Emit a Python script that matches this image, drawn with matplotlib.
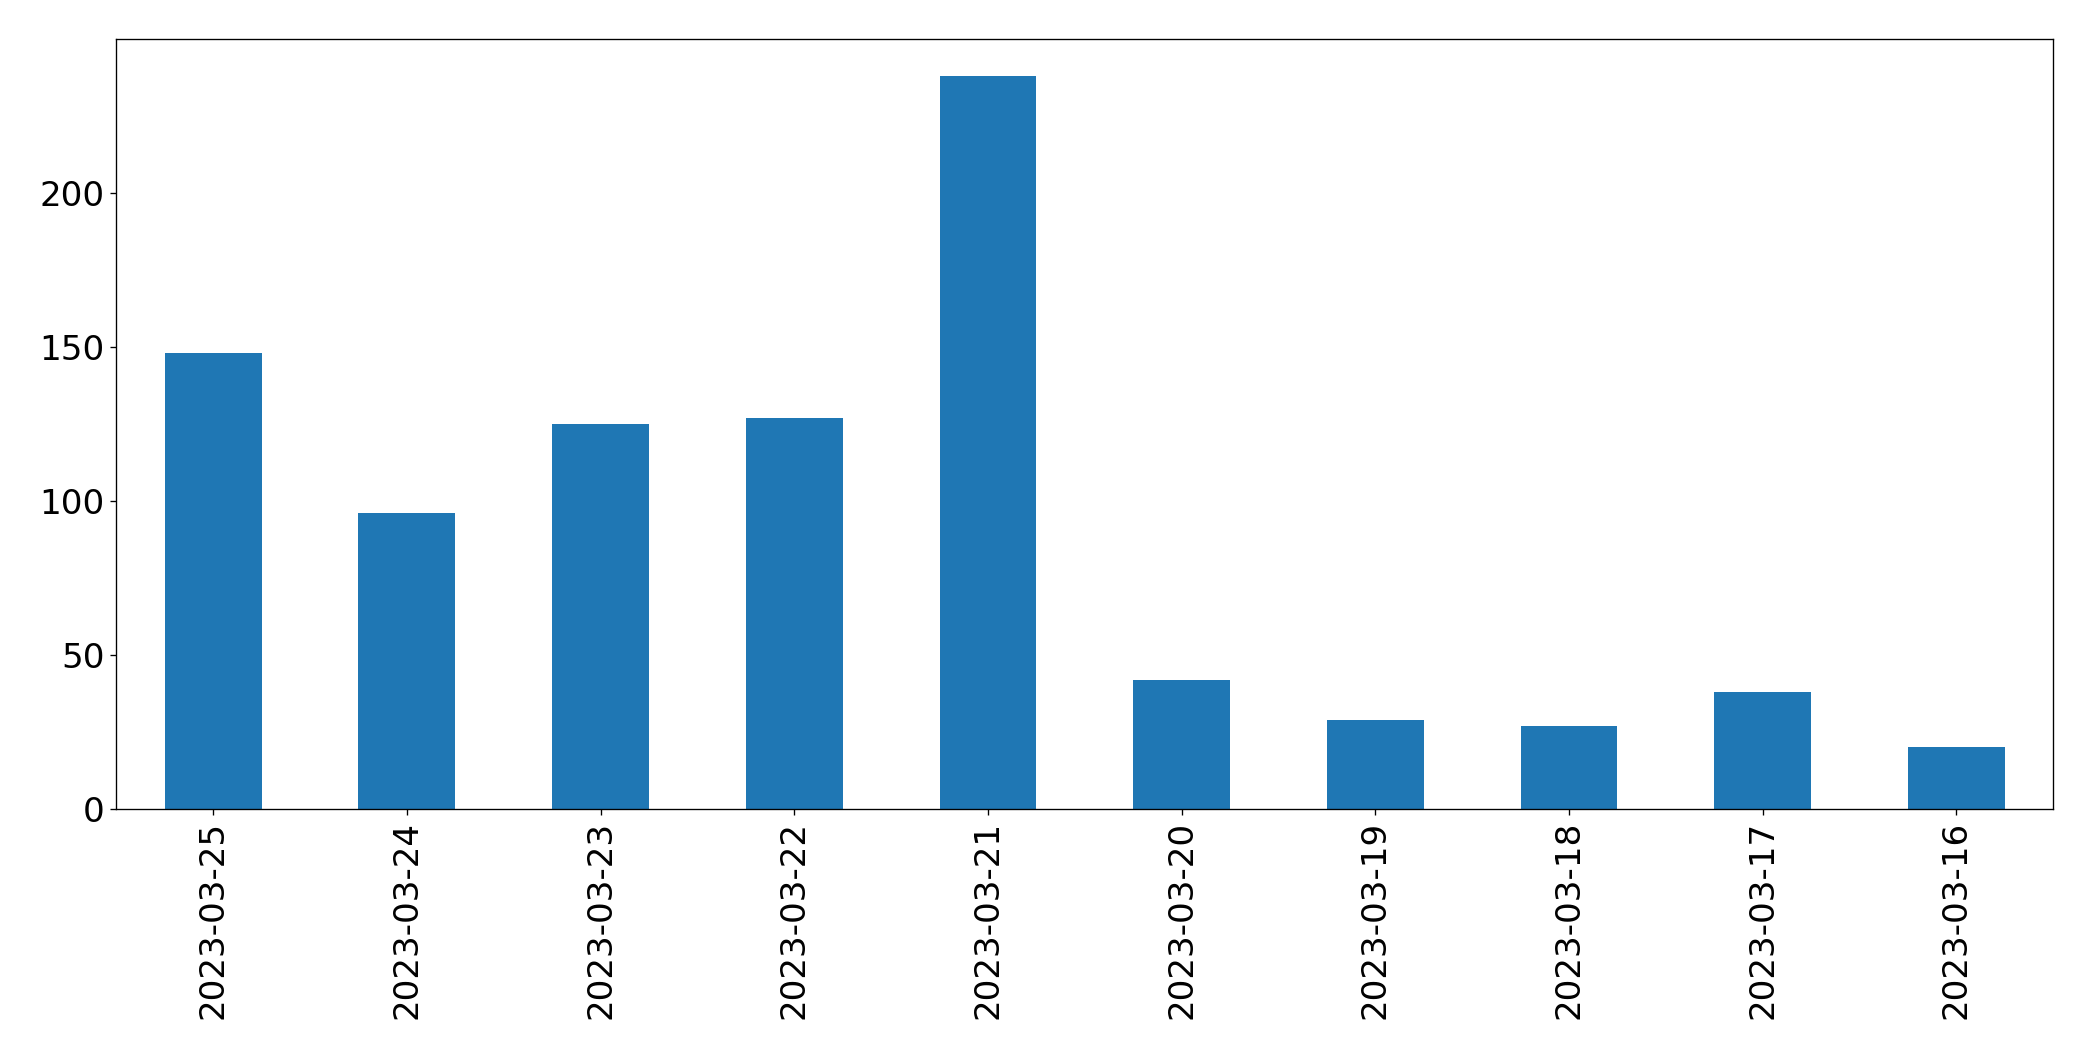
import numpy as np
import pandas as pd
import matplotlib
matplotlib.use("Agg")
import matplotlib.pyplot as plt

dates = ["2023-03-25", "2023-03-24", "2023-03-23", "2023-03-22", "2023-03-21",
         "2023-03-20", "2023-03-19", "2023-03-18", "2023-03-17", "2023-03-16"]
counts = [148, 96, 125, 127, 238, 42, 29, 27, 38, 20]

dpi = 120
fig = plt.figure(figsize=(2093 / dpi, 1061 / dpi), dpi=dpi)
ax = fig.add_axes([0.0556, 0.2375, 0.981 - 0.0556, 0.9632 - 0.2375])

s = pd.Series(counts, index=dates)
s.plot(kind="bar", ax=ax, color="#1f77b4", width=0.5)

ax.set_xlabel("")
ax.tick_params(axis="both", labelsize=20.5)
ax.set_yticks([0, 50, 100, 150, 200])
plt.setp(ax.get_xticklabels(), rotation=90)

fig.savefig("out.png", dpi=dpi)
